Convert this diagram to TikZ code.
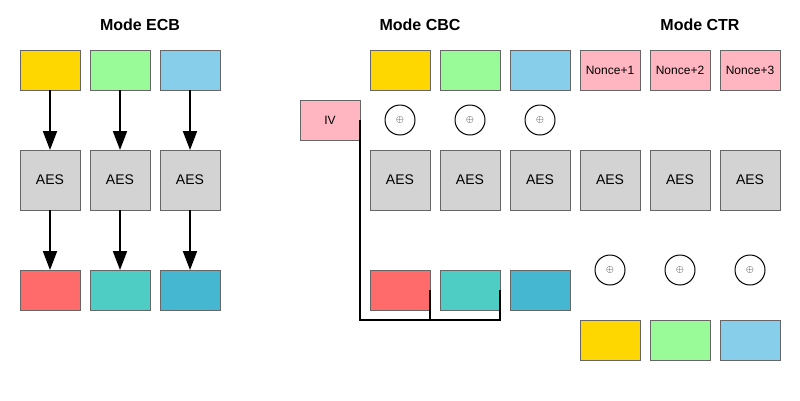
\documentclass[tikz,border=0pt]{standalone}
\usepackage{fontspec}
\setmainfont{Liberation Sans}
\usepackage{tikz}
\usetikzlibrary{positioning}
\usetikzlibrary{arrows.meta}
\definecolor{Gold}{HTML}{FFD700}
\definecolor{Mint}{HTML}{98FB98}
\definecolor{Sky}{HTML}{87CEEB}
\definecolor{Coral}{HTML}{FF6B6B}
\definecolor{Teal}{HTML}{4ECDC4}
\definecolor{Ocean}{HTML}{45B7D1}
\definecolor{Rose}{HTML}{FFB6C1}
\definecolor{Stone}{HTML}{D3D3D3}
\colorlet{Edge}{black!60}
\tikzset{
  blk/.style={draw=Edge, line width=1pt, minimum width=60pt, minimum height=40pt, inner sep=0pt, outer sep=0pt},
  aesbox/.style={blk, fill=Stone, minimum height=60pt, font=\fontsize{14}{16}\selectfont},
  smallbox/.style={blk, fill=Rose, font=\fontsize{12}{14}\selectfont},
  xorc/.style={draw, circle, line width=1pt, minimum size=30pt, inner sep=0pt, outer sep=0pt, font=\fontsize{10}{12}\selectfont},
  heading/.style={font=\bfseries\fontsize{16}{18}\selectfont},
  flow/.style={-{Triangle[length=19pt,width=14pt]}, line width=2pt},
  link/.style={line width=2pt}
}

\begin{document}
\begin{tikzpicture}[x=1pt,y=-1pt]
        \useasboundingbox (0,0) rectangle (800,400);
        % titles
        \node[heading] (tE) at (140,25) {Mode ECB};
        \node[heading] (tC) at (420,25) {Mode CBC};
        \node[heading] (tR) at (700,25) {Mode CTR};

        % ECB blocks
        \node[blk, fill=Gold, anchor=north west] (E1) at (20,50) {};
        \node[blk, fill=Mint, right=10pt of E1] (E2) {};
        \node[blk, fill=Sky, right=10pt of E2] (E3) {};
        \node[aesbox, below=60pt of E1] (EA1) {AES};
        \node[aesbox, below=60pt of E2] (EA2) {AES};
        \node[aesbox, below=60pt of E3] (EA3) {AES};
        \node[blk, fill=Coral, below=60pt of EA1] (EC1) {};
        \node[blk, fill=Teal, below=60pt of EA2] (EC2) {};
        \node[blk, fill=Ocean, below=60pt of EA3] (EC3) {};

        % CBC blocks
        \node[blk, fill=Gold, anchor=north west] (C1) at (370,50) {};
        \node[blk, fill=Mint, right=10pt of C1] (C2) {};
        \node[blk, fill=Sky, right=10pt of C2] (C3) {};
        \node[smallbox, anchor=north west] (IV) at (300,100) {IV};
        \node[xorc, below=15pt of C1] (X1) {$\oplus$};
        \node[xorc, below=15pt of C2] (X2) {$\oplus$};
        \node[xorc, below=15pt of C3] (X3) {$\oplus$};
        \node[aesbox, below=60pt of C1] (CA1) {AES};
        \node[aesbox, below=60pt of C2] (CA2) {AES};
        \node[aesbox, below=60pt of C3] (CA3) {AES};
        \node[blk, fill=Coral, below=60pt of CA1] (CC1) {};
        \node[blk, fill=Teal, below=60pt of CA2] (CC2) {};
        \node[blk, fill=Ocean, below=60pt of CA3] (CC3) {};
        \coordinate (bus) at (0,320);

        % CTR blocks
        \node[smallbox, anchor=north west] (N1) at (580,50) {Nonce+1};
        \node[smallbox, right=10pt of N1] (N2) {Nonce+2};
        \node[smallbox, right=10pt of N2] (N3) {Nonce+3};
        \node[aesbox, below=60pt of N1] (RA1) {AES};
        \node[aesbox, below=60pt of N2] (RA2) {AES};
        \node[aesbox, below=60pt of N3] (RA3) {AES};
        \node[xorc, below=45pt of RA1] (Y1) {$\oplus$};
        \node[xorc, below=45pt of RA2] (Y2) {$\oplus$};
        \node[xorc, below=45pt of RA3] (Y3) {$\oplus$};
        \node[blk, fill=Gold, below=35pt of Y1] (R1) {};
        \node[blk, fill=Mint, below=35pt of Y2] (R2) {};
        \node[blk, fill=Sky, below=35pt of Y3] (R3) {};

        % edges
        \draw[flow] (E1) -- (EA1);
        \draw[flow] (E2) -- (EA2);
        \draw[flow] (E3) -- (EA3);
        \draw[flow] (EA1) -- (EC1);
        \draw[flow] (EA2) -- (EC2);
        \draw[flow] (EA3) -- (EC3);
        \draw[link] (IV.east) -- (IV.east |- bus) -- (CC2.east |- bus) -- (CC2.east);
        \draw[link] (CC1.east) -- (CC1.east |- bus);
   \end{tikzpicture}
\end{document}
